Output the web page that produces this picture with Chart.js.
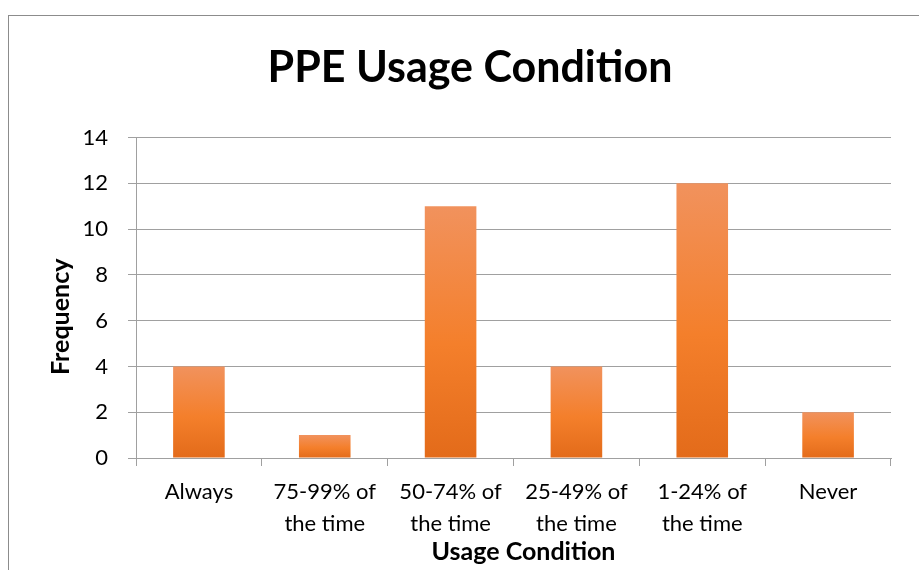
<!DOCTYPE html>
<html>
<head>
<meta charset="utf-8">
<script src="https://cdn.jsdelivr.net/npm/chart.js@4"></script>
<style>
  html, body { margin: 0; padding: 0; background: #fff; overflow: hidden; }
  #wrap { position: relative; width: 919px; height: 570px; }
  #frame { position: absolute; left: 8px; top: 15px; width: 1200px; height: 900px; border: 1px solid #8c8c8c; }
  #c { position: absolute; left: 0; top: 0; }
</style>
</head>
<body>
<div id="wrap">
  <div id="frame"></div>
  <canvas id="c" width="919" height="570"></canvas>
</div>
<script>
const categories = [
  ['Always'],
  ['75-99% of', 'the time'],
  ['50-74% of', 'the time'],
  ['25-49% of', 'the time'],
  ['1-24% of', 'the time'],
  ['Never']
];
const frequency = [4, 1, 11, 4, 12, 2];
const yTicks = [0, 2, 4, 6, 8, 10, 12, 14];
const xTitle = 'Usage Condition';
const yTitle = 'Frequency';

const FONT = 'Lato, "Open Sans", sans-serif';
const GRID = '#a0a0a0';

function barFill(context) {
  const chart = context.chart;
  const area = chart.chartArea;
  const yScale = chart.scales.y;
  if (!area || !yScale || context.raw == null) return '#f37f2a';
  const top = yScale.getPixelForValue(context.raw);
  const base = yScale.getPixelForValue(0);
  const g = chart.ctx.createLinearGradient(0, top, 0, base);
  g.addColorStop(0, '#f1925d');
  g.addColorStop(0.55, '#f47f2b');
  g.addColorStop(1, '#e36b1a');
  return g;
}

// axis titles sit a little off-centre in the original, so draw them here
const axisTitles = {
  id: 'axisTitles',
  afterDraw(chart) {
    const a = chart.chartArea;
    const c = chart.ctx;
    c.save();
    c.fillStyle = '#000';
    c.font = 'bold 25px ' + FONT;
    c.textAlign = 'center';
    c.textBaseline = 'middle';
    c.fillText(xTitle, (a.left + a.right) / 2 + 10, a.bottom + 94);
    c.translate(61, (a.top + a.bottom) / 2 + 19);
    c.rotate(-Math.PI / 2);
    c.fillText(yTitle, 0, 0);
    c.restore();
  }
};

const ctx = document.getElementById('c').getContext('2d');
new Chart(ctx, {
  type: 'bar',
  data: {
    labels: categories,
    datasets: [{
      label: 'Frequency',
      data: frequency,
      backgroundColor: barFill,
      borderWidth: 0,
      categoryPercentage: 1,
      barPercentage: 0.41
    }]
  },
  options: {
    responsive: false,
    animation: false,
    layout: { padding: { left: 49, right: 28, top: 0, bottom: 0 } },
    plugins: {
      legend: { display: false },
      tooltip: { enabled: false },
      title: {
        display: true,
        text: 'PPE Usage Condition',
        color: '#000',
        font: { family: FONT, size: 43, weight: 'bold' },
        padding: { top: 42, bottom: 44 }
      }
    },
    scales: {
      x: {
        grid: { display: true, drawOnChartArea: false, drawTicks: true, tickLength: 8, color: GRID, offset: true },
        border: { color: GRID },
        ticks: {
          color: '#000',
          font: { family: FONT, size: 22, lineHeight: 1.45 },
          maxRotation: 0,
          autoSkip: false,
          padding: 10
        },
        afterFit: function (scale) { scale.height = 112; }
      },
      y: {
        min: 0,
        max: 14,
        afterBuildTicks: function (scale) { scale.ticks = yTicks.map(v => ({ value: v })); },
        grid: { color: GRID, tickLength: 8 },
        border: { color: GRID },
        ticks: {
          color: '#000',
          font: { family: FONT, size: 22 },
          padding: 20
        },
        afterFit: function (scale) { scale.width = 87; }
      }
    }
  },
  plugins: [axisTitles]
});
</script>
</body>
</html>
